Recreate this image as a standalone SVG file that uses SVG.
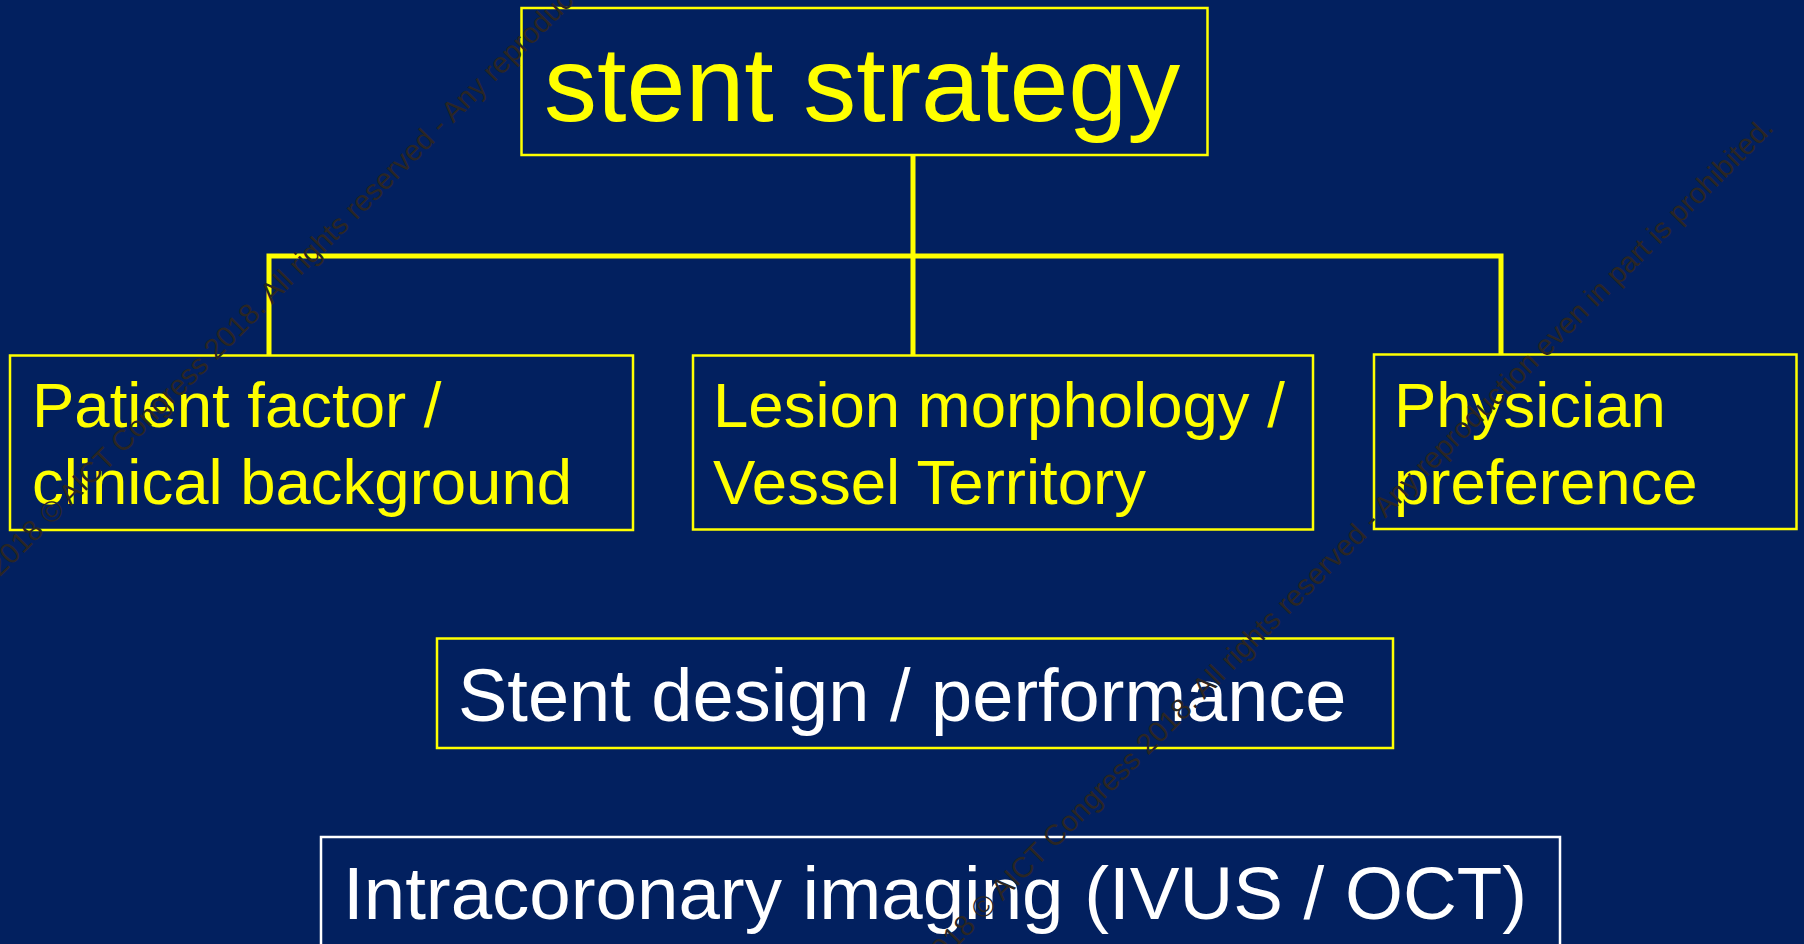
<svg xmlns="http://www.w3.org/2000/svg" width="1804" height="944" viewBox="0 0 1804 944">
  <style>
    .box { fill: none; stroke: #ffff00; stroke-width: 2.5; }
    .wbox { fill: none; stroke: #ffffff; stroke-width: 2.5; }
    .ylabel { font-family: "Liberation Sans", Arial, sans-serif; fill: #ffff00; }
    .wlabel { font-family: "Liberation Sans", Arial, sans-serif; fill: #ffffff; }
    .conn { fill: none; stroke: #ffff00; stroke-width: 5; stroke-linejoin: miter; stroke-linecap: butt; }
    .wm { font-family: "Liberation Sans", Arial, sans-serif; font-size: 29px; fill: #2a2624; text-anchor: end; }
  </style>
  <rect x="0" y="0" width="1804" height="944" fill="#02205f"/>

  <g id="connectors">
    <path class="conn" d="M913,155 V355"/>
    <path class="conn" d="M269,355 V256 H1501 V354"/>
  </g>

  <g id="node-stent-strategy">
    <rect class="box" x="521.5" y="8" width="686" height="147"/>
    <text class="ylabel" x="544" y="121" font-size="106">stent strategy</text>
  </g>

  <g id="node-patient">
    <rect class="box" x="10" y="355.5" width="623" height="174.5"/>
    <text class="ylabel" x="32" y="427" font-size="63.5">Patient factor /</text>
    <text class="ylabel" x="32" y="504" font-size="63.5">clinical background</text>
  </g>

  <g id="node-lesion">
    <rect class="box" x="693" y="355.5" width="620" height="174"/>
    <text class="ylabel" x="713" y="427" font-size="63.5">Lesion morphology /</text>
    <text class="ylabel" x="713" y="504" font-size="63.5">Vessel Territory</text>
  </g>

  <g id="node-physician">
    <rect class="box" x="1374" y="354.5" width="422.5" height="174.5"/>
    <text class="ylabel" x="1394" y="427" font-size="63.5">Physician</text>
    <text class="ylabel" x="1394" y="504" font-size="63.5">preference</text>
  </g>

  <g id="node-stent-design">
    <rect class="box" x="437" y="638.5" width="956" height="109.5"/>
    <text class="wlabel" x="458" y="721" font-size="74">Stent design / performance</text>
  </g>

  <g id="node-imaging">
    <rect class="wbox" x="321" y="837" width="1239" height="130"/>
    <text class="wlabel" x="343" y="919" font-size="74.5">Intracoronary imaging (IVUS / OCT)</text>
  </g>

  <g id="watermark">
    <text class="wm" transform="translate(1775,129) rotate(-45)">2018 © AICT Congress 2018. All rights reserved - Any reproduction even in part is prohibited.</text>
    <text class="wm" transform="translate(843,-266) rotate(-45)">2018 © AICT Congress 2018. All rights reserved - Any reproduction even in part is prohibited.</text>
  </g>
</svg>
